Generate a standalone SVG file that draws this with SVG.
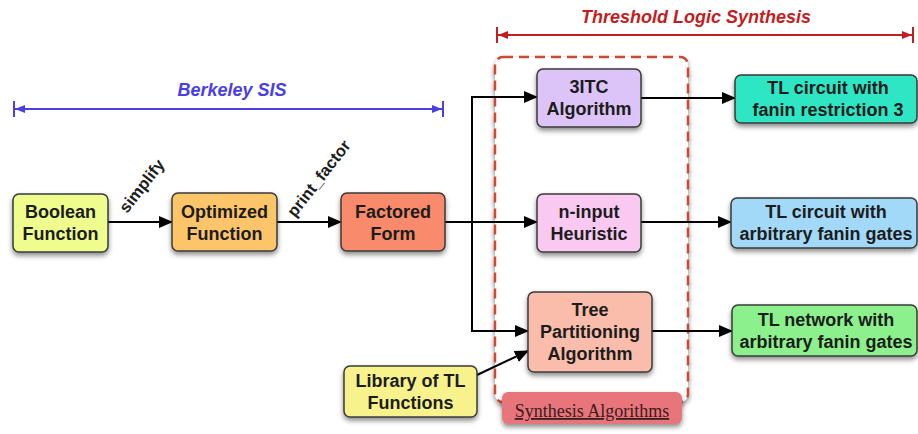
<svg xmlns="http://www.w3.org/2000/svg" width="918" height="434" viewBox="0 0 918 434">
<defs>
<filter id="sh" x="-20%" y="-20%" width="140%" height="160%">
<feDropShadow dx="0" dy="3" stdDeviation="2.5" flood-color="#000" flood-opacity="0.45"/>
</filter>
<marker id="ah" markerWidth="14" markerHeight="12" refX="13" refY="6" orient="auto" markerUnits="userSpaceOnUse">
<path d="M0,0 L14,6 L0,12 z" fill="#000"/>
</marker>
<marker id="bs" markerWidth="12" markerHeight="18" refX="11" refY="9" orient="auto-start-reverse" markerUnits="userSpaceOnUse">
<path d="M0,5 L10,9 L0,13 z M10,1 L12,1 L12,17 L10,17 z" fill="#4a3ee6"/>
</marker>
<marker id="rs" markerWidth="12" markerHeight="18" refX="11" refY="9" orient="auto-start-reverse" markerUnits="userSpaceOnUse">
<path d="M0,5 L10,9 L0,13 z M10,1 L12,1 L12,17 L10,17 z" fill="#c31d22"/>
</marker>
</defs>
<style>
.box{stroke:#3a3a3a;stroke-width:1.5;filter:url(#sh)}
.t{font-family:"Liberation Sans",Arial,sans-serif;font-weight:bold;font-size:18px;fill:#1c1c1c;text-anchor:middle}
.lbl{font-family:"Liberation Sans",Arial,sans-serif;font-weight:bold;font-size:16.5px;fill:#1c1c1c}
.c{fill:none;stroke:#000;stroke-width:2}
.ttl{font-family:"Liberation Sans",Arial,sans-serif;font-weight:bold;font-style:italic;font-size:18px;text-anchor:middle}
</style>

<g id="berkeley-sis">
<text class="ttl" x="232" y="96" fill="#4a3ee6">Berkeley SIS</text>
<line x1="14" y1="109" x2="443" y2="109" stroke="#4a3ee6" stroke-width="2" marker-start="url(#bs)" marker-end="url(#bs)"/>
</g>
<g id="threshold-logic-synthesis">
<text class="ttl" x="696" y="23" fill="#c31d22">Threshold Logic Synthesis</text>
<line x1="497" y1="35" x2="913" y2="35" stroke="#c31d22" stroke-width="2" marker-start="url(#rs)" marker-end="url(#rs)"/>
</g>

<g id="synthesis-algorithms">
<rect x="495" y="57" width="193" height="345" rx="8" fill="#fff" stroke="#cc4a36" stroke-width="2.5" stroke-dasharray="10,6" filter="url(#sh)"/>
<rect x="502" y="392" width="180" height="32" rx="6" fill="#e8757c" filter="url(#sh)"/>
<text x="592" y="417" font-family="'Liberation Serif','Times New Roman',serif" font-size="18" fill="#3a1c1c" text-anchor="middle" text-decoration="underline">Synthesis Algorithms</text>
</g>

<g id="connectors">
<line class="c" x1="108" y1="222" x2="172" y2="222" marker-end="url(#ah)"/>
<line class="c" x1="277" y1="222" x2="341" y2="222" marker-end="url(#ah)"/>
<line class="c" x1="445" y1="222" x2="537" y2="222" marker-end="url(#ah)"/>
<path class="c" d="M472,222 V97 H537" marker-end="url(#ah)"/>
<path class="c" d="M472,222 V331 H528" marker-end="url(#ah)"/>
<line class="c" x1="641" y1="98" x2="735" y2="98" marker-end="url(#ah)"/>
<line class="c" x1="641" y1="222" x2="731" y2="222" marker-end="url(#ah)"/>
<line class="c" x1="652" y1="331" x2="732" y2="331" marker-end="url(#ah)"/>
<line class="c" x1="477" y1="375" x2="528" y2="351" marker-end="url(#ah)"/>
<text class="lbl" transform="translate(127,214) rotate(-52)">simplify</text>
<text class="lbl" transform="translate(295,218) rotate(-52)">print_factor</text>
</g>

<g id="boolean-function">
<rect class="box" x="13" y="194" width="95" height="58" rx="6" fill="#effc8e"/>
<text class="t" x="60.5" y="218">Boolean</text>
<text class="t" x="60.5" y="240">Function</text>
</g>
<g id="optimized-function">
<rect class="box" x="172" y="193" width="105" height="58" rx="6" fill="#fcc56a"/>
<text class="t" x="224.5" y="218">Optimized</text>
<text class="t" x="224.5" y="240">Function</text>
</g>
<g id="factored-form">
<rect class="box" x="341" y="193" width="104" height="58" rx="6" fill="#f98a6c"/>
<text class="t" x="393" y="218">Factored</text>
<text class="t" x="393" y="240">Form</text>
</g>
<g id="ittc-algorithm">
<rect class="box" x="537" y="69" width="104" height="58" rx="6" fill="#dcc3f8"/>
<text class="t" x="589" y="93">3ITC</text>
<text class="t" x="589" y="115">Algorithm</text>
</g>
<g id="n-input-heuristic">
<rect class="box" x="537" y="194" width="104" height="58" rx="6" fill="#f9c9f2"/>
<text class="t" x="589" y="218">n-input</text>
<text class="t" x="589" y="240">Heuristic</text>
</g>
<g id="tree-partitioning">
<rect class="box" x="528" y="292" width="124" height="80" rx="6" fill="#fbbdab"/>
<text class="t" x="590" y="316">Tree</text>
<text class="t" x="590" y="338">Partitioning</text>
<text class="t" x="590" y="360">Algorithm</text>
</g>
<g id="library-tl">
<rect class="box" x="344" y="366" width="133" height="51" rx="6" fill="#f8f28c"/>
<text class="t" x="410.5" y="387">Library of TL</text>
<text class="t" x="410.5" y="409">Functions</text>
</g>
<g id="tl-circuit-3">
<rect class="box" x="735" y="75" width="182" height="48" rx="6" fill="#2ee6c4"/>
<text class="t" x="828" y="94">TL circuit with</text>
<text class="t" x="828" y="116">fanin restriction 3</text>
</g>
<g id="tl-circuit-arbitrary">
<rect class="box" x="731" y="198" width="186" height="50" rx="6" fill="#a2d8f8"/>
<text class="t" x="826" y="218">TL circuit with</text>
<text class="t" x="826" y="240">arbitrary fanin gates</text>
</g>
<g id="tl-network">
<rect class="box" x="732" y="305" width="185" height="51" rx="6" fill="#8cf08c"/>
<text class="t" x="826" y="326">TL network with</text>
<text class="t" x="826" y="348">arbitrary fanin gates</text>
</g>
</svg>
